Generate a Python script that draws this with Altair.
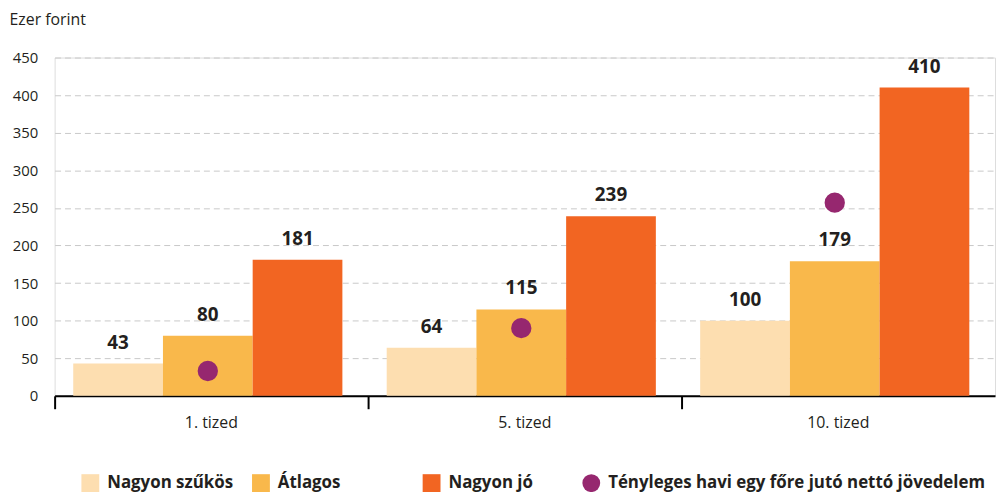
import altair as alt
import pandas as pd

categories = ["1. tized", "5. tized", "10. tized"]
series = ["Nagyon szűkös", "Átlagos", "Nagyon jó"]
nagyon_szukos = [43, 64, 100]
atlagos = [80, 115, 179]
nagyon_jo = [181, 239, 410]
tenyleges = [33, 90, 257]
dot_label = "Tényleges havi egy főre jutó nettó jövedelem"

colors = ["#fddeb0", "#f9b84b", "#f26522"]
dot_color = "#96276f"
text_color = "#231f20"
FONT = "Open Sans"

rows = []
for s, vals in zip(series, [nagyon_szukos, atlagos, nagyon_jo]):
    for c, v in zip(categories, vals):
        rows.append({"cat": c, "series": s, "value": v})
bars_df = pd.DataFrame(rows)
dots_df = pd.DataFrame({"cat": categories, "series": ["Átlagos"] * 3,
                        "value": tenyleges, "kind": [dot_label] * 3})

x_scale = alt.Scale(domain=categories, paddingInner=0, paddingOuter=0)
xo_scale = alt.Scale(domain=series, paddingInner=0, paddingOuter=0.247, align=0.42)
y_scale = alt.Scale(domain=[0, 450], nice=False)
y_axis = alt.Axis(values=list(range(0, 451, 50)), title="Ezer forint", titleAngle=0,
                  titleAlign="left", titleBaseline="middle", titleX=-46, titleY=-38,
                  titleFont=FONT, titleFontSize=16, titleFontWeight="normal",
                  titleColor=text_color, domain=False, ticks=False,
                  labelPadding=17, labelFont=FONT, labelFontSize=15,
                  labelColor=text_color, grid=True, gridColor="#c8c8c8",
                  gridDash=[6, 4], gridWidth=1)

legend_common = dict(orient="none", legendY=420, symbolSize=324,
                     symbolStrokeWidth=0, title=None, labelFont=FONT,
                     labelFontSize=17, labelFontWeight="bold",
                     labelColor=text_color, labelOffset=8, labelLimit=500)

bars = alt.Chart(bars_df).mark_bar().encode(
    x=alt.X("cat:N", scale=x_scale, sort=categories,
            axis=alt.Axis(bandPosition=0, labels=False, ticks=True, tickSize=13,
                          tickWidth=2, tickColor="#000000", domainColor="#000000",
                          domainWidth=2, title=None, grid=False, orient="bottom")),
    xOffset=alt.XOffset("series:N", scale=xo_scale, sort=series),
    y=alt.Y("value:Q", scale=y_scale, axis=y_axis),
    color=alt.Color("series:N", scale=alt.Scale(domain=series, range=colors),
                    legend=alt.Legend(legendX=27, direction="horizontal", columns=3,
                                      gridAlign="all", columnPadding=19,
                                      symbolType="square", **legend_common)),
)

labels = alt.Chart(bars_df).mark_text(baseline="alphabetic", dy=-15, font=FONT,
                                      fontSize=19, fontWeight="bold",
                                      color=text_color).encode(
    x=alt.X("cat:N", scale=x_scale, sort=categories,
            axis=alt.Axis(labels=True, ticks=False, domain=False, labelPadding=19,
                          labelFont=FONT, labelFontSize=16, labelColor=text_color,
                          labelAngle=0, title=None, grid=False, orient="bottom")),
    xOffset=alt.XOffset("series:N", scale=xo_scale, sort=series),
    y=alt.Y("value:Q", scale=y_scale, axis=y_axis),
    text=alt.Text("value:Q"),
)

dots = alt.Chart(dots_df).mark_point(filled=True, size=420, shape="circle",
                                     opacity=1).encode(
    x=alt.X("cat:N", scale=x_scale, sort=categories, axis=None),
    xOffset=alt.XOffset("series:N", scale=xo_scale, sort=series),
    y=alt.Y("value:Q", scale=y_scale, axis=y_axis),
    fill=alt.Fill("kind:N", scale=alt.Scale(domain=[dot_label], range=[dot_color]),
                  legend=alt.Legend(legendX=532, symbolType="circle",
                                    **legend_common)),
)

chart = alt.layer(bars, labels, dots).resolve_axis(x="independent").properties(
    width=948, height=341,
    autosize=alt.AutoSizeParams(type="none"),
    padding={"left": 47, "top": 48, "right": 3, "bottom": 95},
).configure_view(stroke=None).configure(background="white")

chart.save("out.html", embed_options={"renderer": "svg", "actions": False})
